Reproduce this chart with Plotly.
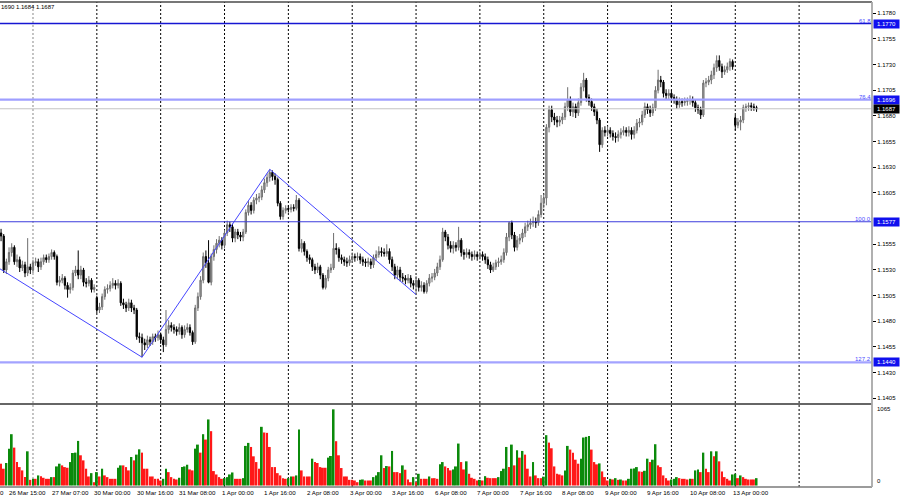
import plotly.graph_objects as go

# EURUSD H1 - hourly bars, 26 Mar 12:00 .. 13 Apr 04:00 (weekends skipped)
first_open = 1.1566
gap_opens = {36: 1.1503, 276: 1.1678}   # weekend gaps

closes = [
    1.1563, 1.1530, 1.1538, 1.1547, 1.1552, 1.1538, 1.1540, 1.1532, 1.1535, 1.1527,
    1.1533, 1.1530, 1.1537, 1.1538, 1.1533, 1.1538, 1.1542, 1.1540, 1.1543, 1.1547,
    1.1543, 1.1518, 1.1520, 1.1522, 1.1515, 1.1511, 1.1513, 1.1527, 1.1530, 1.1525,
    1.1530, 1.1518, 1.1517, 1.1520, 1.1511, 1.1513, 1.1491, 1.1494, 1.1504, 1.1511,
    1.1512, 1.1515, 1.1517, 1.1515, 1.1517, 1.1498, 1.1496, 1.1493, 1.1498, 1.1493,
    1.1491, 1.1465, 1.1464, 1.1459, 1.1457, 1.1462, 1.1460, 1.1465, 1.1464, 1.1467,
    1.1462, 1.1457, 1.1472, 1.1476, 1.1474, 1.1472, 1.1470, 1.1474, 1.1467, 1.1472,
    1.1474, 1.1469, 1.1460, 1.1493, 1.1504, 1.1520, 1.1543, 1.1537, 1.1518, 1.1543,
    1.1550, 1.1556, 1.1559, 1.1554, 1.1566, 1.1574, 1.1572, 1.1561, 1.1567, 1.1564,
    1.1562, 1.1567, 1.1586, 1.1593, 1.1588, 1.1598, 1.1600, 1.1601, 1.1608, 1.1615,
    1.1620, 1.1625, 1.1621, 1.1618, 1.1595, 1.1582, 1.1588, 1.1590, 1.1589, 1.1591,
    1.1590, 1.1598, 1.1551, 1.1556, 1.1548, 1.1542, 1.1540, 1.1533, 1.1530, 1.1533,
    1.1525, 1.1513, 1.1522, 1.1530, 1.1532, 1.1551, 1.1550, 1.1542, 1.1540, 1.1538,
    1.1537, 1.1540, 1.1543, 1.1542, 1.1543, 1.1540, 1.1538, 1.1537, 1.1538, 1.1535,
    1.1542, 1.1545, 1.1548, 1.1547, 1.1546, 1.1548, 1.1540, 1.1533, 1.1525, 1.1530,
    1.1523, 1.1522, 1.1520, 1.1522, 1.1517, 1.1515, 1.1520, 1.1513, 1.1515, 1.1509,
    1.1517, 1.1522, 1.1523, 1.1527, 1.1533, 1.1540, 1.1567, 1.1562, 1.1554, 1.1551,
    1.1554, 1.1552, 1.1559, 1.1547, 1.1545, 1.1547, 1.1545, 1.1543, 1.1545, 1.1543,
    1.1545, 1.1543, 1.1540, 1.1535, 1.1530, 1.1533, 1.1537, 1.1538, 1.1540, 1.1547,
    1.1562, 1.1576, 1.1564, 1.1552, 1.1559, 1.1561, 1.1566, 1.1572, 1.1574, 1.1576,
    1.1577, 1.1576, 1.1584, 1.1595, 1.1600, 1.1669, 1.1686, 1.1679, 1.1676, 1.1674,
    1.1676, 1.1679, 1.1689, 1.1696, 1.1684, 1.1689, 1.1683, 1.1693, 1.1708, 1.1715,
    1.1698, 1.1694, 1.1689, 1.1684, 1.1676, 1.1652, 1.1666, 1.1664, 1.1666, 1.1663,
    1.1660, 1.1659, 1.1662, 1.1664, 1.1666, 1.1664, 1.1666, 1.1662, 1.1666, 1.1673,
    1.1674, 1.1681, 1.1689, 1.1686, 1.1683, 1.1688, 1.1705, 1.1715, 1.1713, 1.1702,
    1.1700, 1.1702, 1.1698, 1.1696, 1.1691, 1.1694, 1.1693, 1.1694, 1.1695, 1.1696,
    1.1693, 1.1688, 1.1686, 1.1681, 1.1712, 1.1713, 1.1715, 1.1720, 1.1727, 1.1734,
    1.1728, 1.1723, 1.1725, 1.1728, 1.1733, 1.1728, 1.1671, 1.1674, 1.1676, 1.1688,
    1.1689, 1.1690, 1.1689, 1.1688, 1.1687,
]

highs = [
    1.1570, 1.1565, 1.1541, 1.1552, 1.1556, 1.1554, 1.1545, 1.1543, 1.1539, 1.1538,
    1.1561, 1.1536, 1.1540, 1.1542, 1.1541, 1.1542, 1.1545, 1.1545, 1.1546, 1.1550,
    1.1549, 1.1545, 1.1524, 1.1526, 1.1524, 1.1518, 1.1517, 1.1530, 1.1534, 1.1549,
    1.1534, 1.1532, 1.1522, 1.1524, 1.1522, 1.1516, 1.1505, 1.1498, 1.1507, 1.1514,
    1.1516, 1.1519, 1.1522, 1.1520, 1.1521, 1.1519, 1.1502, 1.1499, 1.1502, 1.1501,
    1.1496, 1.1493, 1.1469, 1.1468, 1.1463, 1.1466, 1.1465, 1.1468, 1.1468, 1.1471,
    1.1469, 1.1465, 1.1491, 1.1481, 1.1479, 1.1477, 1.1475, 1.1478, 1.1476, 1.1476,
    1.1478, 1.1477, 1.1471, 1.1496, 1.1508, 1.1524, 1.1547, 1.1549, 1.1559, 1.1546,
    1.1554, 1.1560, 1.1563, 1.1562, 1.1569, 1.1578, 1.1577, 1.1575, 1.1570, 1.1570,
    1.1567, 1.1570, 1.1589, 1.1597, 1.1596, 1.1601, 1.1604, 1.1605, 1.1612, 1.1619,
    1.1624, 1.1628, 1.1627, 1.1624, 1.1620, 1.1597, 1.1591, 1.1593, 1.1593, 1.1594,
    1.1594, 1.1603, 1.1600, 1.1560, 1.1558, 1.1550, 1.1545, 1.1542, 1.1536, 1.1537,
    1.1535, 1.1527, 1.1525, 1.1533, 1.1536, 1.1566, 1.1556, 1.1552, 1.1545, 1.1543,
    1.1542, 1.1544, 1.1547, 1.1546, 1.1547, 1.1546, 1.1543, 1.1541, 1.1542, 1.1541,
    1.1545, 1.1549, 1.1553, 1.1552, 1.1551, 1.1555, 1.1551, 1.1543, 1.1536, 1.1534,
    1.1533, 1.1527, 1.1525, 1.1526, 1.1525, 1.1520, 1.1524, 1.1522, 1.1519, 1.1518,
    1.1520, 1.1526, 1.1527, 1.1531, 1.1537, 1.1544, 1.1571, 1.1569, 1.1565, 1.1558,
    1.1558, 1.1557, 1.1572, 1.1561, 1.1550, 1.1551, 1.1550, 1.1548, 1.1549, 1.1548,
    1.1548, 1.1548, 1.1546, 1.1543, 1.1538, 1.1537, 1.1540, 1.1542, 1.1544, 1.1551,
    1.1566, 1.1577, 1.1578, 1.1567, 1.1563, 1.1565, 1.1570, 1.1576, 1.1578, 1.1580,
    1.1582, 1.1581, 1.1588, 1.1603, 1.1604, 1.1672, 1.1690, 1.1690, 1.1683, 1.1680,
    1.1680, 1.1683, 1.1693, 1.1708, 1.1699, 1.1693, 1.1692, 1.1697, 1.1712, 1.1722,
    1.1717, 1.1701, 1.1697, 1.1692, 1.1687, 1.1678, 1.1669, 1.1670, 1.1670, 1.1669,
    1.1666, 1.1664, 1.1666, 1.1668, 1.1670, 1.1669, 1.1670, 1.1669, 1.1670, 1.1677,
    1.1678, 1.1685, 1.1693, 1.1692, 1.1690, 1.1692, 1.1709, 1.1725, 1.1719, 1.1715,
    1.1706, 1.1706, 1.1705, 1.1701, 1.1699, 1.1698, 1.1697, 1.1698, 1.1698, 1.1700,
    1.1699, 1.1696, 1.1691, 1.1689, 1.1715, 1.1717, 1.1719, 1.1724, 1.1731, 1.1739,
    1.1739, 1.1731, 1.1729, 1.1732, 1.1736, 1.1735, 1.1681, 1.1678, 1.1680, 1.1691,
    1.1692, 1.1693, 1.1693, 1.1692, 1.1690,
]

lows = [
    1.1558, 1.1527, 1.1526, 1.1535, 1.1543, 1.1535, 1.1533, 1.1528, 1.1529, 1.1523,
    1.1524, 1.1526, 1.1527, 1.1534, 1.1528, 1.1530, 1.1535, 1.1537, 1.1537, 1.1540,
    1.1540, 1.1515, 1.1514, 1.1517, 1.1511, 1.1503, 1.1507, 1.1510, 1.1524, 1.1521,
    1.1521, 1.1514, 1.1513, 1.1514, 1.1508, 1.1508, 1.1488, 1.1488, 1.1491, 1.1501,
    1.1507, 1.1509, 1.1512, 1.1511, 1.1512, 1.1495, 1.1492, 1.1489, 1.1490, 1.1489,
    1.1487, 1.1462, 1.1459, 1.1445, 1.1452, 1.1454, 1.1456, 1.1457, 1.1460, 1.1461,
    1.1458, 1.1450, 1.1455, 1.1468, 1.1470, 1.1468, 1.1466, 1.1467, 1.1463, 1.1464,
    1.1469, 1.1466, 1.1457, 1.1458, 1.1490, 1.1501, 1.1517, 1.1532, 1.1517, 1.1515,
    1.1539, 1.1546, 1.1552, 1.1550, 1.1551, 1.1563, 1.1567, 1.1557, 1.1557, 1.1560,
    1.1558, 1.1558, 1.1565, 1.1583, 1.1584, 1.1585, 1.1594, 1.1596, 1.1598, 1.1605,
    1.1611, 1.1616, 1.1617, 1.1613, 1.1592, 1.1579, 1.1579, 1.1585, 1.1586, 1.1586,
    1.1587, 1.1588, 1.1548, 1.1547, 1.1544, 1.1538, 1.1536, 1.1529, 1.1526, 1.1527,
    1.1521, 1.1511, 1.1511, 1.1519, 1.1527, 1.1530, 1.1545, 1.1538, 1.1536, 1.1534,
    1.1533, 1.1534, 1.1537, 1.1538, 1.1539, 1.1536, 1.1534, 1.1533, 1.1533, 1.1531,
    1.1532, 1.1539, 1.1542, 1.1543, 1.1543, 1.1543, 1.1536, 1.1529, 1.1521, 1.1521,
    1.1519, 1.1518, 1.1516, 1.1517, 1.1513, 1.1511, 1.1506, 1.1509, 1.1509, 1.1507,
    1.1507, 1.1514, 1.1518, 1.1520, 1.1524, 1.1530, 1.1538, 1.1558, 1.1550, 1.1547,
    1.1546, 1.1548, 1.1549, 1.1543, 1.1540, 1.1542, 1.1541, 1.1539, 1.1540, 1.1539,
    1.1540, 1.1539, 1.1536, 1.1531, 1.1527, 1.1528, 1.1530, 1.1533, 1.1535, 1.1537,
    1.1544, 1.1558, 1.1560, 1.1548, 1.1549, 1.1555, 1.1557, 1.1562, 1.1568, 1.1570,
    1.1572, 1.1571, 1.1573, 1.1581, 1.1590, 1.1593, 1.1664, 1.1674, 1.1671, 1.1669,
    1.1670, 1.1672, 1.1676, 1.1685, 1.1680, 1.1679, 1.1678, 1.1680, 1.1690, 1.1704,
    1.1694, 1.1690, 1.1685, 1.1680, 1.1672, 1.1645, 1.1649, 1.1660, 1.1660, 1.1659,
    1.1656, 1.1654, 1.1655, 1.1658, 1.1661, 1.1660, 1.1660, 1.1657, 1.1658, 1.1663,
    1.1669, 1.1671, 1.1678, 1.1682, 1.1679, 1.1680, 1.1685, 1.1702, 1.1708, 1.1698,
    1.1696, 1.1696, 1.1694, 1.1692, 1.1687, 1.1688, 1.1689, 1.1690, 1.1690, 1.1691,
    1.1689, 1.1684, 1.1682, 1.1677, 1.1679, 1.1708, 1.1710, 1.1711, 1.1716, 1.1723,
    1.1724, 1.1717, 1.1720, 1.1722, 1.1724, 1.1725, 1.1666, 1.1668, 1.1666, 1.1673,
    1.1684, 1.1685, 1.1685, 1.1685, 1.1684,
]

volumes = [
    296, 228, 305, 500, 696, 514, 318, 250, 205, 114,
    464, 77, 91, 91, 137, 127, 105, 91, 91, 114,
    114, 259, 296, 273, 250, 241, 318, 441, 446, 605,
    410, 341, 228, 123, 168, 45, 182, 123, 228, 137,
    114, 91, 91, 91, 241, 273, 273, 250, 205, 387,
    341, 419, 491, 446, 228, 228, 123, 123, 91, 91,
    68, 91, 228, 182, 114, 91, 82, 105, 250, 259,
    282, 218, 205, 500, 555, 446, 696, 623, 896, 737,
    196, 150, 114, 91, 100, 114, 150, 177, 91, 91,
    91, 100, 537, 578, 523, 396, 318, 228, 796, 719,
    714, 523, 250, 250, 168, 137, 100, 91, 100, 123,
    123, 137, 760, 205, 123, 123, 123, 364, 318, 305,
    250, 241, 241, 378, 400, 1033, 601, 410, 237, 123,
    123, 77, 77, 68, 45, 77, 82, 68, 68, 68,
    114, 137, 182, 410, 237, 264, 259, 469, 182, 182,
    168, 273, 214, 82, 45, 114, 45, 159, 91, 91,
    91, 123, 100, 100, 91, 287, 318, 259, 237, 205,
    218, 259, 569, 318, 218, 328, 159, 105, 91, 68,
    77, 68, 127, 105, 100, 100, 100, 114, 196, 228,
    523, 250, 555, 273, 478, 378, 469, 419, 228, 123,
    318, 137, 100, 100, 120, 683, 582, 505, 259, 159,
    150, 137, 205, 537, 487, 446, 350, 296, 364, 651,
    660, 673, 487, 318, 287, 300, 191, 114, 68, 91,
    82, 100, 77, 82, 68, 68, 91, 228, 232, 250,
    191, 186, 200, 364, 318, 350, 560, 273, 250, 137,
    100, 68, 82, 91, 114, 100, 91, 91, 82, 91,
    91, 205, 218, 182, 446, 228, 182, 464, 396, 464,
    328, 191, 114, 91, 68, 150, 159, 100, 137, 114,
    91, 82, 82, 82, 100,
]

assert len(closes) == len(highs) == len(lows) == len(volumes)

# zigzag swing points (bar index, price)
zz_bars = [-1, 53, 101, 156]
zz_prices = [1.1532, 1.1445, 1.1628, 1.1506]

# fibo levels drawn on the chart
levels = [1.1770, 1.1696, 1.1577, 1.1440]
level_names = ['61.8', '76.4', '100.0', '127.2']
level_colors = ['#1616d2', '#9f9fff', '#3c3cdc', '#a3a3ff']
level_widths = [1.6, 2.2, 1.1, 2.2]
bid = 1.1687

# 1.1580 sits under the 1.1577 level box, so it is left out
price_ticks = [1.1405, 1.1430, 1.1455, 1.1480, 1.1505, 1.1530, 1.1555,
               1.1605, 1.1630, 1.1655, 1.1680, 1.1705, 1.1730, 1.1755, 1.1780]

time_labels = ['26 Mar 15:00', '27 Mar 07:00', '30 Mar 00:00', '30 Mar 16:00',
               '31 Mar 08:00', '1 Apr 00:00', '1 Apr 16:00', '2 Apr 08:00',
               '3 Apr 00:00', '3 Apr 16:00', '6 Apr 08:00', '7 Apr 00:00',
               '7 Apr 16:00', '8 Apr 08:00', '9 Apr 00:00', '9 Apr 16:00',
               '10 Apr 08:00', '13 Apr 00:00']
label_bars = list(range(3, 3 + 16 * len(time_labels), 16))
day_starts = list(range(12, 301, 24))

n = len(closes)
bars = list(range(n))
opens = [first_open] + closes[:-1]
for k, v in gap_opens.items():
    opens[k] = v

GREEN = '#0b8a0b'
RED = '#ff1818'
vol_colors = [RED] + [GREEN if volumes[i] > volumes[i - 1] else RED for i in range(1, n)]

FONT = 'Liberation Sans'

fig = go.Figure()

fig.add_trace(go.Candlestick(
    x=bars, open=opens, high=highs, low=lows, close=closes,
    increasing=dict(line=dict(color='#6e6e6e', width=1), fillcolor='#a6a6a6'),
    decreasing=dict(line=dict(color='#000000', width=1), fillcolor='#000000'),
    whiskerwidth=0, xaxis='x', yaxis='y', showlegend=False
))

fig.add_trace(go.Scatter(
    x=zz_bars, y=zz_prices, mode='lines',
    line=dict(color='#4646ff', width=1),
    xaxis='x', yaxis='y', hoverinfo='skip', showlegend=False
))

fig.add_trace(go.Bar(
    x=bars, y=volumes, width=0.72,
    marker=dict(color=vol_colors, line=dict(width=0)),
    xaxis='x', yaxis='y2', showlegend=False
))

shapes = []
# vertical dashed grid, through both panes
for j, d in enumerate(day_starts):
    shapes.append(dict(type='line', xref='x', yref='paper', x0=d, x1=d, y0=0, y1=1,
                       line=dict(color='#888888' if j == 0 else '#000000', width=1, dash='2px,2px'),
                       layer='below'))

# horizontal levels
for lv, c, w in zip(levels, level_colors, level_widths):
    shapes.append(dict(type='line', xref='paper', yref='y', x0=0, x1=1, y0=lv, y1=lv,
                       line=dict(color=c, width=w)))
shapes.append(dict(type='line', xref='paper', yref='y', x0=0, x1=1, y0=bid, y1=bid,
                   line=dict(color='#c4c4c4', width=1)))

# frame
shapes.append(dict(type='line', xref='paper', yref='paper', x0=0, x1=1, y0=1, y1=1,
                   line=dict(color='#4a4a4a', width=1.5)))
shapes.append(dict(type='line', xref='paper', yref='paper', x0=0, x1=1, y0=0.1711, y1=0.1711,
                   line=dict(color='#666666', width=2.2)))
shapes.append(dict(type='line', xref='paper', yref='paper', x0=0, x1=1, y0=0, y1=0,
                   line=dict(color='#7a7a7a', width=1.6)))
shapes.append(dict(type='line', xref='paper', yref='paper', x0=1, x1=1, y0=0, y1=1,
                   line=dict(color='#a8a8a8', width=1.8)))

annotations = []
# time labels start at their bar, MT4 style
for b, t in zip(label_bars, time_labels):
    annotations.append(dict(xref='x', yref='paper', x=b, y=0, xanchor='left', yanchor='top',
                            text=t, showarrow=False, borderpad=0, xshift=-1, yshift=-1,
                            font=dict(family=FONT, size=6.2, color='black')))
annotations.append(dict(xref='paper', yref='paper', x=0, y=0, xanchor='left', yanchor='top',
                        text='0', showarrow=False, borderpad=0, xshift=-1, yshift=-1,
                        font=dict(family=FONT, size=6.2, color='black')))

for lv, name in zip(levels, level_names):
    annotations.append(dict(xref='paper', yref='y', x=1, y=lv, xanchor='right', yanchor='bottom',
                            text=name, showarrow=False, borderpad=0, yshift=-1,
                            font=dict(family=FONT, size=6, color='#4b4bff')))
    annotations.append(dict(xref='paper', yref='y', x=1, y=lv, xanchor='left', yanchor='middle',
                            text=f'{lv:.4f}', showarrow=False, bgcolor='#1010ee', width=25, height=8,
                            borderpad=0, xshift=1, font=dict(family=FONT, size=6, color='white')))
annotations.append(dict(xref='paper', yref='y', x=1, y=bid, xanchor='left', yanchor='middle',
                        text=f'{bid:.4f}', showarrow=False, bgcolor='#000000', width=25, height=8,
                        borderpad=0, xshift=1, font=dict(family=FONT, size=6, color='white')))

annotations.append(dict(xref='paper', yref='y2', x=1, y=1065, xanchor='left', yanchor='middle',
                        text='1065', showarrow=False, xshift=3, yshift=-2,
                        font=dict(family=FONT, size=6, color='black')))
annotations.append(dict(xref='paper', yref='y2', x=1, y=0, xanchor='left', yanchor='middle',
                        text='0', showarrow=False, xshift=3, yshift=5,
                        font=dict(family=FONT, size=6, color='black')))
annotations.append(dict(xref='paper', yref='paper', x=0, y=1, xanchor='left', yanchor='top',
                        text='1690 1.1684 1.1687', showarrow=False, borderpad=0, yshift=-1,
                        font=dict(family=FONT, size=6, color='black')))

fig.update_layout(
    width=900, height=500,
    margin=dict(l=0, r=28, t=2, b=13, autoexpand=False),
    paper_bgcolor='white', plot_bgcolor='white',
    showlegend=False,
    xaxis=dict(range=[-0.4, 327.4], anchor='y2', showticklabels=False, ticks='',
               showgrid=False, zeroline=False, showline=False, automargin=False,
               rangeslider=dict(visible=False)),
    yaxis=dict(domain=[0.1732, 1], range=[1.14004, 1.1791], side='right', anchor='x',
               tickvals=price_ticks, tickformat='.4f', ticks='outside', ticklen=3,
               tickcolor='#000000', tickwidth=1, showgrid=False, zeroline=False, showline=False,
               automargin=False, tickfont=dict(family=FONT, size=6, color='black')),
    yaxis2=dict(domain=[0, 0.1691], range=[-20, 1092], side='right', anchor='x',
                showticklabels=False, ticks='', showgrid=False, zeroline=False, showline=False,
                automargin=False),
    shapes=shapes,
    annotations=annotations,
)

# the page's default 8px body margin would offset the figure
fig.write_html("out.html", config={'displayModeBar': False},
               post_script="document.body.style.margin='0';")
